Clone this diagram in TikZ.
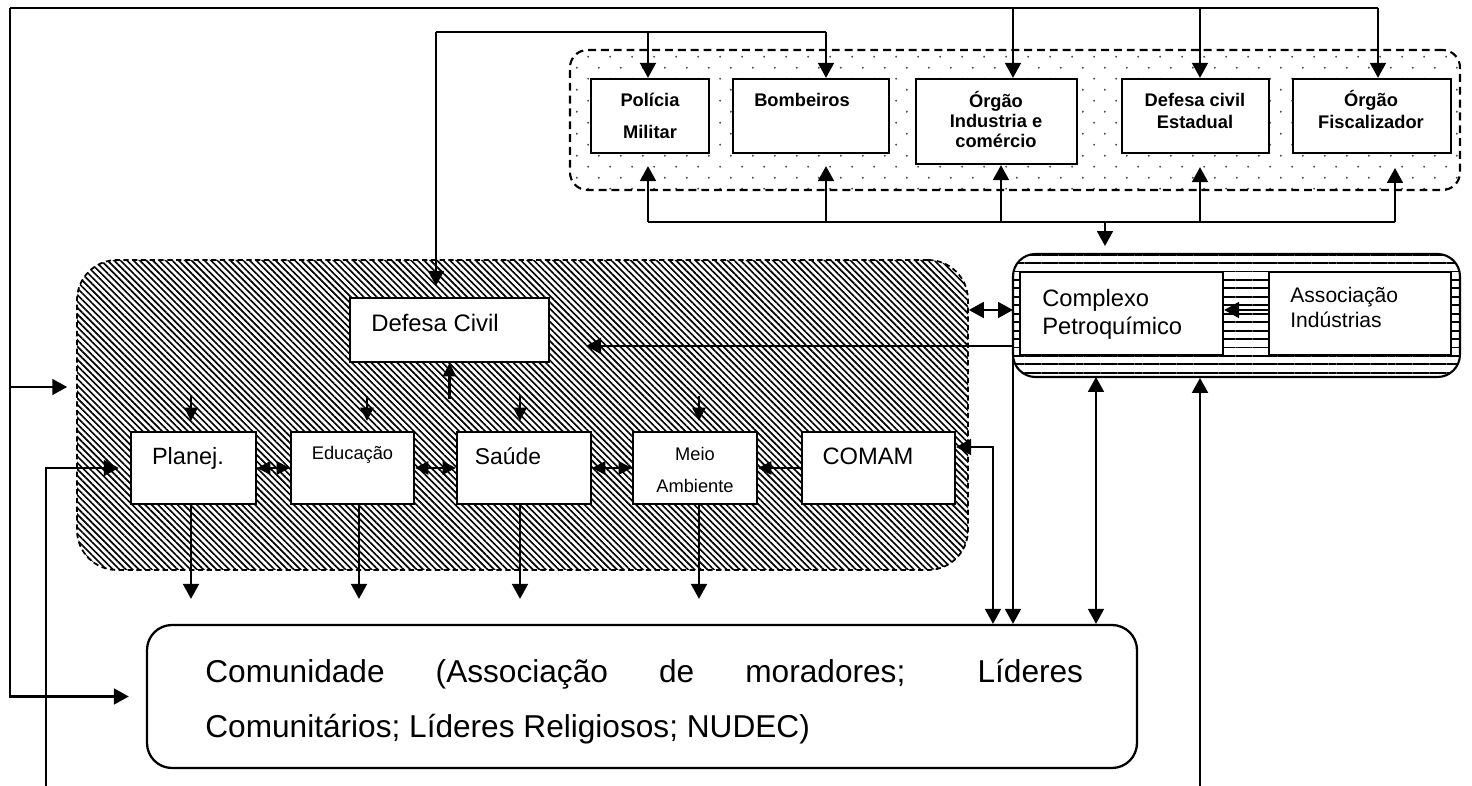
\documentclass[tikz,border=0pt]{standalone}
\usepackage{fontspec}
\setmainfont{Liberation Sans}
\usetikzlibrary{arrows.meta,patterns,patterns.meta,fit,calc}

% staggered sparse dots for the state-agency group
\pgfdeclarepatternformonly{sparsedots}{\pgfqpoint{0pt}{0pt}}{\pgfqpoint{12.3pt}{12.5pt}}{\pgfqpoint{12.3pt}{12.5pt}}{%
  \pgfpathcircle{\pgfqpoint{3pt}{3pt}}{0.6pt}%
  \pgfpathcircle{\pgfqpoint{9.15pt}{9.25pt}}{0.6pt}%
  \pgfusepath{fill}}

\tikzset{
  box/.style={draw, line width=1.3pt, fill=white, inner sep=0pt},
  txt/.style={inner sep=0pt, text=black},
  conn/.style={line width=1.3pt},
  arr/.style={conn, -{Triangle[length=8.5pt,width=9pt]}},
  darr/.style={conn, {Triangle[length=8.5pt,width=9pt]}-{Triangle[length=8.5pt,width=9pt]}},
  sarr/.style={conn, -{Triangle[length=7.5pt,width=7.5pt]}},
  dsarr/.style={conn, {Triangle[length=7.5pt,width=7.5pt]}-{Triangle[length=7.5pt,width=7.5pt]}},
  topgrp/.style={draw, line width=1.2pt, dash pattern=on 4.5pt off 2.8pt, rounded corners=0.35cm,
    pattern=sparsedots, pattern color=black!75, inner sep=0pt},
  mungrp/.style={draw, line width=1pt, dash pattern=on 3pt off 2pt, rounded corners=0.8cm,
    pattern={Lines[angle=-45,distance=2.6pt,line width=0.95pt]}, inner sep=0pt},
  indgrp/.style={draw, line width=1.2pt, rounded corners=0.45cm,
    pattern={Lines[angle=0,distance=4.8pt,line width=1.05pt]}, inner sep=0pt},
  combox/.style={draw, line width=1.3pt, rounded corners=0.5cm, fill=white, inner sep=0pt},
  btxt/.style={txt, align=center},
}

\begin{document}
\begin{tikzpicture}[x=0.02cm,y=-0.02cm]
\useasboundingbox (0,0) rectangle (1472,786);

% ---- groups ----
\node[topgrp, fit={(570,50) (1460,190)}] (grpTop) {};
\node[mungrp, fit={(77,260) (968,570)}] (grpMun) {};
\node[indgrp, fit={(1013,254) (1460,377)}] (grpInd) {};
\node[combox, fit={(147,625) (1137,768)}] (com) {};

% ---- state agencies ----
\node[box, fit={(591,79) (709,153)}] (pm) {};
\node[box, fit={(733,79) (889,153)}] (bb) {};
\node[box, fit={(916,79) (1077,164)}] (oi) {};
\node[box, fit={(1122,79) (1269,153)}] (dce) {};
\node[box, fit={(1293,79) (1451,153)}] (of) {};

% ---- municipal bodies ----
\node[box, fit={(350,298) (549,362)}] (dc) {};
\node[box, fit={(131,432) (256,504)}] (pl) {};
\node[box, fit={(291,432) (414,504)}] (ed) {};
\node[box, fit={(457,432) (591,504)}] (sa) {};
\node[box, fit={(633,432) (757,504)}] (ma) {};
\node[box, fit={(802,432) (955,504)}] (cm) {};

% ---- industry ----
\node[box, fit={(1020,272) (1223,355)}] (cp) {};
\node[box, fit={(1269,272) (1451,355)}] (ai) {};

% ---- outer feed line ----
\coordinate (fA) at (10,8);
\coordinate (fA1) at (1013,8);
\coordinate (fA2) at (1200,8);
\coordinate (fA3) at (1378,8);
\coordinate (fA4) at (10,387);
\draw[conn] (fA) -- (fA3);
\draw[arr] (fA1) -- (fA1 |- oi.north);
\draw[arr] (fA2) -- (fA2 |- dce.north);
\draw[arr] (fA3) -- (fA3 |- of.north);
\draw[arr, shorten >=9.7pt] (fA) |- (com.west);
\draw[arr, shorten >=5.1pt] (fA4) -- (fA4 -| grpMun.west);

% ---- second feed line ----
\coordinate (fB) at (436,32);
\coordinate (fB1) at (648,32);
\coordinate (fB2) at (826,32);
\draw[conn] (fB) -- (fB2);
\draw[arr] (fB1) -- (fB1 |- pm.north);
\draw[arr] (fB2) -- (fB2 |- bb.north);
\draw[arr, shorten >=6.3pt] (fB) -- (fB |- dc.north);

% ---- return bus below the agencies ----
\coordinate (rC1) at (648,222);
\coordinate (rC2) at (826,222);
\coordinate (rC3) at (1001,222);
\coordinate (rC4) at (1200,222);
\coordinate (rC5) at (1395,222);
\coordinate (rC6) at (1105,222);
\draw[conn] (rC1) -- (rC5);
\draw[arr, shorten >=6.8pt] (rC1) -- (rC1 |- pm.south);
\draw[arr, shorten >=6.8pt] (rC2) -- (rC2 |- bb.south);
\draw[arr] (rC3) -- (rC3 |- oi.south);
\draw[arr, shorten >=7.4pt] (rC4) -- (rC4 |- dce.south);
\draw[arr, shorten >=7.9pt] (rC5) -- (rC5 |- of.south);
\draw[arr, shorten >=4pt] (rC6) -- (rC6 |- grpInd.north);

% ---- industry links ----
\coordinate (iA) at (1013,310);
\draw[darr] (iA -| grpMun.east) -- (iA);
\coordinate (iB) at (1269,310);
\draw[arr] (iB) -- (iB -| cp.east);
\coordinate (iC) at (1013,346);
\draw[arr, shorten >=20.5pt] (iC) -- (iC -| dc.east);
\draw[arr] (iC) -- (iC |- com.north);
\coordinate (iD) at (1096,377);
\draw[darr] (iD) -- (iD |- com.north);
\coordinate (iE) at (1200,786);
\draw[arr] (iE) -- (iE |- grpInd.south);
\coordinate (iF) at (993,447);
\draw[darr] (iF -| cm.east) -- (iF) -- (iF |- com.north);

% ---- links inside the municipal group ----
\draw[sarr, shorten >=5.7pt] ($(pl.north)+(-2.5,-35)$) -- ($(pl.north)+(-2.5,0)$);
\draw[sarr, shorten >=5.7pt] ($(ed.north)+(14.5,-35)$) -- ($(ed.north)+(14.5,0)$);
\draw[sarr, shorten >=5.7pt] ($(sa.north)+(-4,-35)$) -- ($(sa.north)+(-4,0)$);
\draw[sarr, shorten >=5.7pt] ($(ma.north)+(4,-35)$) -- ($(ma.north)+(4,0)$);
\draw[sarr] ($(dc.south)+(0,36)$) -- (dc.south);
\draw[dsarr] (pl.east) -- (ed.west);
\draw[dsarr] (ed.east) -- (sa.west);
\draw[dsarr] (sa.east) -- (ma.west);
\draw[sarr] (cm.west) -- (ma.east);

% ---- municipal bodies down to the community ----
\coordinate (oPl) at ($(pl.south)+(-2.5,0)$);
\coordinate (oEd) at ($(ed.south)+(6.5,0)$);
\coordinate (oSa) at ($(sa.south)+(-4,0)$);
\coordinate (oMa) at ($(ma.south)+(4,0)$);
\draw[arr, shorten >=14.2pt] (oPl) -- (oPl |- com.north);
\draw[arr, shorten >=14.2pt] (oEd) -- (oEd |- com.north);
\draw[arr, shorten >=14.2pt] (oSa) -- (oSa |- com.north);
\draw[arr, shorten >=14.2pt] (oMa) -- (oMa |- com.north);

% ---- left feed into Planej. ----
\coordinate (fL) at (46,786);
\draw[arr, shorten >=6.3pt] (fL) |- (pl.west);

% ---- labels ----
\node[btxt, font=\fontsize{10.4}{18.2}\selectfont\bfseries] (pmT) at (650,115.7) {Polícia\\Militar};
\node[txt, anchor=base, font=\fontsize{10.4}{12.5}\selectfont\bfseries] (bbT) at (802,106.7) {Bombeiros};
\node[btxt, font=\fontsize{10.4}{11.6}\selectfont\bfseries] (oiT) at (996,119.4) {Órgão\\Industria e\\comércio};
\node[btxt, font=\fontsize{10.4}{12.3}\selectfont\bfseries] (dceT) at (1195,110.8) {Defesa civil\\Estadual};
\node[btxt, font=\fontsize{10.4}{12}\selectfont\bfseries] (ofT) at (1371,109.5) {Órgão\\Fiscalizador};

\node[txt, anchor=base, font=\fontsize{13.6}{16}\selectfont] (dcT) at (435,331.5) {Defesa Civil};
\node[txt, anchor=base, font=\fontsize{13.4}{16}\selectfont] (plT) at (188,465) {Planej.};
\node[txt, anchor=base, font=\fontsize{10.4}{12}\selectfont] (edT) at (352.5,460) {Educação};
\node[txt, anchor=base, font=\fontsize{13}{16}\selectfont] (saT) at (508,465) {Saúde};
\node[btxt, font=\fontsize{10.4}{18.4}\selectfont] (maT) at (695,469.7) {Meio\\Ambiente};
\node[txt, anchor=base, font=\fontsize{13.5}{16}\selectfont] (cmT) at (868,464.3) {COMAM};

\node[txt, anchor=west, align=left, font=\fontsize{13.5}{16}\selectfont] (cpT) at (1042,314.5) {Complexo\\Petroquímico};
\node[txt, anchor=west, align=left, font=\fontsize{12}{14.2}\selectfont] (aiT) at (1290,307.5) {Associação\\Indústrias};

\node[txt, anchor=north west, text width=17.56cm, align=justify, font=\fontsize{18}{31.3}\selectfont] (comT) at (205,659)
  {Comunidade (Associação de moradores; Líderes\linebreak Comunitários; Líderes Religiosos; NUDEC)};
\end{tikzpicture}
\end{document}
